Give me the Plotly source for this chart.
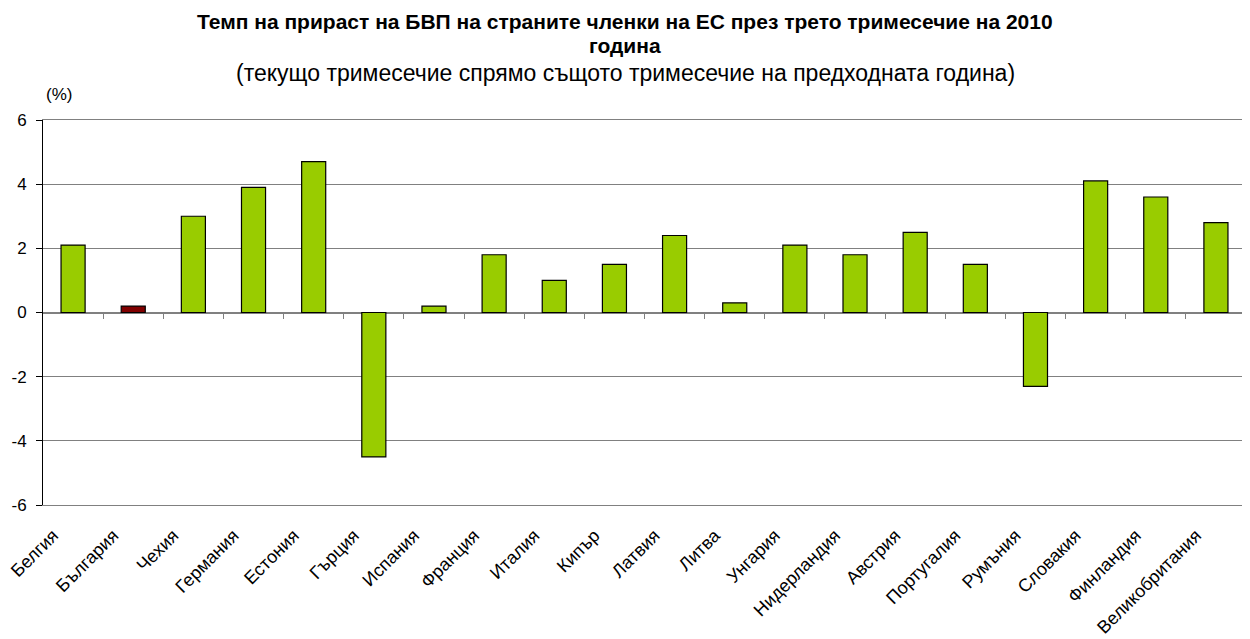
import plotly.graph_objects as go

countries = ["Белгия", "България", "Чехия", "Германия", "Естония", "Гърция", "Испания",
             "Франция", "Италия", "Кипър", "Латвия", "Литва", "Унгария", "Нидерландия",
             "Австрия", "Португалия", "Румъния", "Словакия", "Финландия", "Великобритания"]
growth = [2.1, 0.2, 3.0, 3.9, 4.7, -4.5, 0.2, 1.8, 1.0, 1.5, 2.4, 0.3, 2.1, 1.8, 2.5, 1.5,
          -2.3, 4.1, 3.6, 2.8]
highlight = "България"
y_ticks = [-6, -4, -2, 0, 2, 4, 6]
y_labels = ["-6", "-4", "-2", "0", "2", "4", "6"]

title_line1 = "Темп на прираст на БВП на страните членки на ЕС през трето тримесечие на 2010"
title_line2 = "година"
subtitle = "(текущо тримесечие спрямо същото тримесечие на предходната година)"

colors = ["#800000" if c == highlight else "#99CC00" for c in countries]
n = len(countries)
xs = list(range(n))

# page body has an 8px margin: figure is sized/margined to compensate
W, H = 1242, 631
ML, MR, MT, MB = 35, 4, 112, 134
plot_top, plot_bottom, plot_left, plot_w = 120, 505, 43, 1203


def py(ypx):
    return (plot_bottom - ypx) / (plot_bottom - plot_top)


def px(xpx):
    return (xpx - plot_left) / plot_w


fig = go.Figure()
fig.add_trace(go.Bar(x=xs, y=growth, marker=dict(color=colors, line=dict(color="black", width=1.2)),
                     width=0.4, hoverinfo="x+y"))
fig.add_trace(go.Scatter(x=[0], y=[0], xaxis="x2", mode="markers", marker=dict(opacity=0),
                         hoverinfo="skip"))

font = "Liberation Sans, Arial, sans-serif"
fig.update_layout(
    width=W, height=H,
    margin=dict(l=ML, r=MR, t=MT, b=MB, autoexpand=False),
    plot_bgcolor="white", paper_bgcolor="white",
    showlegend=False,
    font=dict(family=font, size=16, color="black"),
    xaxis=dict(range=[-0.5, n - 0.5], tickmode="array", tickvals=xs, ticktext=countries,
               tickangle=-45, tickfont=dict(size=18), showgrid=False, zeroline=False,
               showline=True, linecolor="#808080", linewidth=1, mirror=True, ticks="",
               ticklabelshift=-20, ticklabelstandoff=12, ticklabeloverflow="allow",
               automargin=False),
    xaxis2=dict(range=[-0.5, n - 0.5], overlaying="x", anchor="free", position=0.5,
                tickmode="array", tickvals=[i + 0.5 for i in range(n - 1)], showticklabels=False,
                ticks="outside", ticklen=5, tickcolor="#808080", showline=False, showgrid=False,
                zeroline=False),
    yaxis=dict(range=[-6, 6], tickmode="array", tickvals=y_ticks, ticktext=y_labels, showgrid=True,
               gridcolor="#808080", gridwidth=1, zeroline=True, zerolinecolor="#808080",
               zerolinewidth=1.5, showline=True, linecolor="black", linewidth=1,
               ticks="outside", ticklen=6, tickcolor="black", tickfont=dict(size=17),
               ticklabelstandoff=6, automargin=False),
)
fig.add_annotation(text="<b>" + title_line1 + "</b>", xref="paper", yref="paper", x=px(625), y=py(22),
                   xanchor="center", yanchor="middle", showarrow=False, font=dict(family=font, size=21))
fig.add_annotation(text="<b>" + title_line2 + "</b>", xref="paper", yref="paper", x=px(625), y=py(46),
                   xanchor="center", yanchor="middle", showarrow=False, font=dict(family=font, size=21))
fig.add_annotation(text=subtitle, xref="paper", yref="paper", x=px(625), y=py(73),
                   xanchor="center", yanchor="middle", showarrow=False, font=dict(family=font, size=23))
fig.add_annotation(text="(%)", xref="paper", yref="paper", x=px(59), y=py(94), xanchor="center",
                   yanchor="middle", showarrow=False, font=dict(family=font, size=17))
fig.write_html("out.html")
